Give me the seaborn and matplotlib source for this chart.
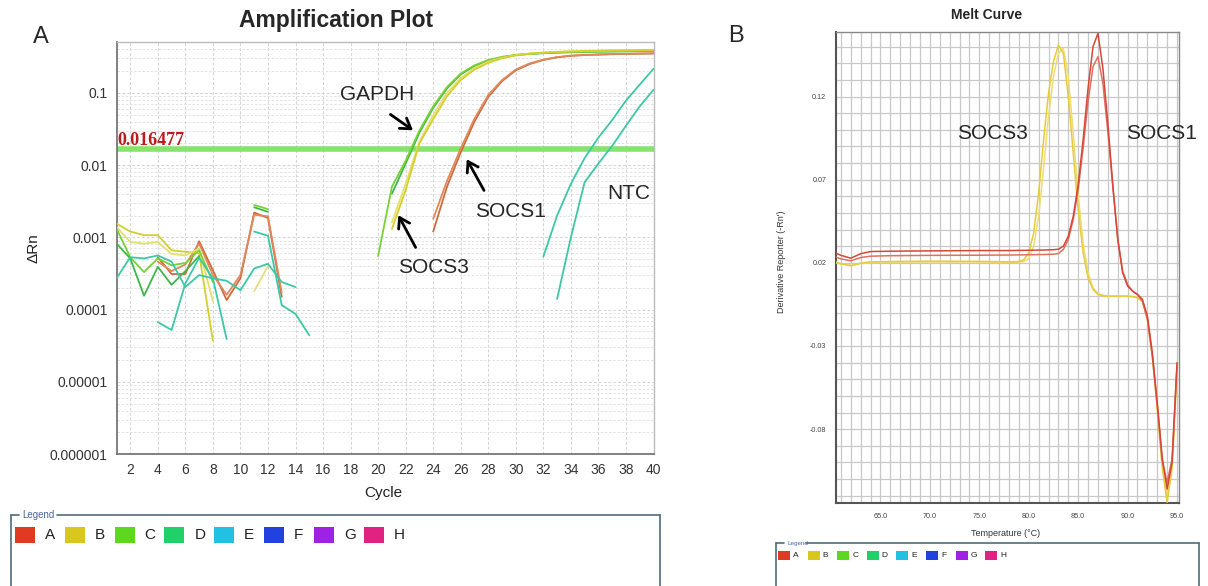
import numpy as np
import pandas as pd
import matplotlib
matplotlib.use("Agg")
import matplotlib.pyplot as plt
import seaborn as sns
from matplotlib.lines import Line2D
from matplotlib.patches import Rectangle
from matplotlib.ticker import LogLocator, NullFormatter, MultipleLocator, FixedLocator, FixedFormatter

sns.set_style("white")
plt.rcParams['font.family'] = ['Liberation Sans', 'DejaVu Sans']

# ---------------- Panel A data: amplification plot (ΔRn per cycle) ----------------
threshold = 0.016477
a_xticks = list(range(2, 41, 2))
a_yticks = [1e-6, 1e-5, 1e-4, 1e-3, 1e-2, 1e-1]
a_yticklabels = ["0.000001", "0.00001", "0.0001", "0.001", "0.01", "0.1"]

# background noise segments (early cycles)
nA1_cyc = list(range(4, 14))
nA1 = [5.3e-4, 3.1e-4, 3.1e-4, 8.8e-4, 3.5e-4, 1.35e-4, 2.7e-4, 2.2e-3, 1.85e-3, 1.5e-4]
nA2_cyc = list(range(4, 14))
nA2 = [4.6e-4, 3.4e-4, 4.2e-4, 8.2e-4, 3.0e-4, 1.6e-4, 3.0e-4, 2.05e-3, 1.95e-3, 1.7e-4]
nB1_cyc = list(range(1, 9))
nB1 = [1.55e-3, 1.2e-3, 1.07e-3, 1.07e-3, 6.6e-4, 6.3e-4, 6.0e-4, 3.7e-5]
nB2_cyc = list(range(1, 9))
nB2 = [1.39e-3, 8.6e-4, 8.2e-4, 8.6e-4, 5.9e-4, 5.6e-4, 7.0e-4, 1.3e-4]
nB3_cyc = [11, 12]
nB3 = [1.8e-4, 4.0e-4]
nC1_cyc = list(range(1, 9))
nC1 = [1.32e-3, 5.3e-4, 3.3e-4, 5.1e-4, 4.1e-4, 4.4e-4, 6.6e-4, 2.4e-4]
nC1b_cyc = [11, 12]
nC1b = [2.8e-3, 2.45e-3]
nC2_cyc = list(range(1, 8))
nC2 = [8.2e-4, 5.1e-4, 1.55e-4, 3.9e-4, 2.2e-4, 3.4e-4, 5.5e-4]
nC2b_cyc = [11, 12]
nC2b = [2.6e-3, 2.25e-3]
nE1_cyc = list(range(1, 15))
nE1 = [2.7e-4, 5.3e-4, 5.1e-4, 5.6e-4, 4.6e-4, 2.05e-4, 3.0e-4, 2.7e-4, 2.5e-4, 1.85e-4,
       3.7e-4, 4.3e-4, 2.4e-4, 2.05e-4]
nE2_cyc = list(range(4, 10))
nE2 = [6.7e-5, 5.2e-5, 2.3e-4, 5.2e-4, 2.7e-4, 3.9e-5]
nE3_cyc = list(range(11, 16))
nE3 = [1.2e-3, 1.05e-3, 1.15e-4, 8.7e-5, 4.4e-5]

# amplification curves
gapdh1_cyc = list(range(20, 41))
gapdh1 = [5.5e-4, 5.0e-3, 1.15e-2, 3.0e-2, 6.5e-2, 0.12, 0.185, 0.24, 0.285, 0.315, 0.335,
          0.348, 0.356, 0.362, 0.366, 0.37, 0.373, 0.375, 0.377, 0.379, 0.38]
gapdh2_cyc = list(range(21, 41))
gapdh2 = [4.0e-3, 1.05e-2, 2.8e-2, 6.2e-2, 0.115, 0.18, 0.235, 0.28, 0.31, 0.332, 0.345,
          0.353, 0.36, 0.364, 0.368, 0.371, 0.373, 0.375, 0.377, 0.378]
socs3_1_cyc = list(range(21, 41))
socs3_1 = [1.3e-3, 4.5e-3, 2.0e-2, 4.3e-2, 9.0e-2, 0.15, 0.21, 0.26, 0.3, 0.33, 0.348,
           0.36, 0.368, 0.374, 0.378, 0.382, 0.385, 0.388, 0.39, 0.392]
socs3_2_cyc = list(range(21, 41))
socs3_2 = [1.6e-3, 5.5e-3, 2.1e-2, 4.9e-2, 0.1, 0.16, 0.22, 0.27, 0.305, 0.333, 0.35,
           0.362, 0.37, 0.376, 0.38, 0.384, 0.387, 0.389, 0.391, 0.393]
socs1_1_cyc = list(range(24, 41))
socs1_1 = [1.2e-3, 5.0e-3, 1.5e-2, 4.0e-2, 8.8e-2, 0.145, 0.205, 0.25, 0.285, 0.31,
           0.325, 0.333, 0.338, 0.342, 0.345, 0.348, 0.35]
socs1_2_cyc = list(range(24, 41))
socs1_2 = [1.8e-3, 6.0e-3, 1.7e-2, 4.4e-2, 9.3e-2, 0.15, 0.21, 0.255, 0.288, 0.312,
           0.327, 0.335, 0.34, 0.344, 0.347, 0.35, 0.352]
ntc1_cyc = list(range(32, 41))
ntc1 = [5.4e-4, 2.0e-3, 5.5e-3, 1.25e-2, 2.4e-2, 4.2e-2, 7.8e-2, 0.13, 0.215]
ntc2_cyc = list(range(33, 41))
ntc2 = [1.4e-4, 1.0e-3, 5.8e-3, 1.05e-2, 1.85e-2, 3.5e-2, 6.5e-2, 0.11]

# ---------------- Panel B data: melt curve ----------------
temps = [60.5, 61.0, 62.0, 63.0, 64.0, 66.0, 70.0, 75.0, 78.0,
         79.0, 79.5, 80.0, 80.5, 81.0, 81.5, 82.0, 82.5, 83.0, 83.5, 84.0, 84.5,
         85.0, 85.5, 86.0, 86.5, 87.0, 87.5, 88.0, 88.5, 89.0, 89.5, 90.0, 90.5,
         91.0, 91.5, 92.0, 92.5, 93.0, 93.5, 94.0, 94.5, 95.0]
melt_A1 = [0.0258, 0.0245, 0.0228, 0.0255, 0.0268, 0.0270, 0.0272, 0.0274, 0.0274,
           0.0275, 0.0275, 0.0276, 0.0276, 0.0277, 0.0277, 0.0278, 0.0279, 0.0282, 0.030, 0.036, 0.048,
           0.067, 0.094, 0.125, 0.150, 0.158, 0.137, 0.104, 0.067, 0.034, 0.014, 0.006, 0.003,
           0.001, -0.002, -0.012, -0.034, -0.064, -0.097, -0.116, -0.100, -0.040]
melt_A2 = [0.0234, 0.0224, 0.0212, 0.0232, 0.0240, 0.0243, 0.0245, 0.0246, 0.0247,
           0.0248, 0.0248, 0.0249, 0.0249, 0.0250, 0.0250, 0.0251, 0.0252, 0.0256, 0.028, 0.034, 0.046,
           0.064, 0.089, 0.117, 0.138, 0.144, 0.128, 0.099, 0.066, 0.035, 0.015, 0.007, 0.003,
           0.001, -0.003, -0.014, -0.036, -0.066, -0.099, -0.112, -0.098, -0.042]
melt_B1 = [0.0205, 0.0195, 0.0182, 0.0198, 0.0206, 0.0208, 0.0210, 0.0209, 0.0206,
           0.0208, 0.0218, 0.026, 0.038, 0.062, 0.094, 0.122, 0.141, 0.151, 0.146, 0.120, 0.086,
           0.052, 0.026, 0.011, 0.004, 0.001, 0.0003, 0.0, 0.0, 0.0, 0.0, 0.0, -0.0003,
           -0.001, -0.003, -0.014, -0.036, -0.068, -0.103, -0.124, -0.104, -0.044]
melt_B2 = [0.0200, 0.0192, 0.0186, 0.0196, 0.0202, 0.0204, 0.0205, 0.0205, 0.0203,
           0.0204, 0.0208, 0.0225, 0.030, 0.048, 0.077, 0.108, 0.132, 0.146, 0.149, 0.132, 0.098,
           0.061, 0.032, 0.014, 0.005, 0.0015, 0.0005, 0.0, 0.0, 0.0, 0.0, 0.0, -0.0003,
           -0.001, -0.003, -0.013, -0.035, -0.066, -0.100, -0.120, -0.102, -0.043]
b_xticks = [65.0, 70.0, 75.0, 80.0, 85.0, 90.0, 95.0]
b_yticks = [-0.08, -0.03, 0.02, 0.07, 0.12]

legend_wells = ["A", "B", "C", "D", "E", "F", "G", "H"]
legend_colors = ["#e03a22", "#d8c81e", "#5cd820", "#22d06a", "#22c0e2", "#2242e0", "#a020e4", "#e02282"]

# ---------------- colours ----------------
cA1, cA2 = "#cf6a3c", "#e0885a"
cB1, cB2 = "#d4cf2c", "#e4e070"
cC1, cC2 = "#76d236", "#3cb84a"
cE = "#3cc8a6"

W, H = 1208, 586
def fx(px):
    return px / W
def fy(py):
    return 1 - py / H

fig = plt.figure(figsize=(W / 100, H / 100), dpi=100)
axA = fig.add_axes([fx(116.5), fy(454), (653.5 - 116.5) / W, (454 - 41.7) / H])
axB = fig.add_axes([fx(836), fy(503.3), (1179 - 836) / W, (503.3 - 31.7) / H])

# ---------------- Panel A ----------------
segments = [
    ("nA1", nA1_cyc, nA1, cA1), ("nA2", nA2_cyc, nA2, cA2),
    ("nB1", nB1_cyc, nB1, cB1), ("nB2", nB2_cyc, nB2, cB2), ("nB3", nB3_cyc, nB3, cB2),
    ("nC1", nC1_cyc, nC1, cC1), ("nC1b", nC1b_cyc, nC1b, cC1),
    ("nC2", nC2_cyc, nC2, cC2), ("nC2b", nC2b_cyc, nC2b, cC2),
    ("nE1", nE1_cyc, nE1, cE), ("nE2", nE2_cyc, nE2, cE), ("nE3", nE3_cyc, nE3, cE),
    ("ntc1", ntc1_cyc, ntc1, cE), ("ntc2", ntc2_cyc, ntc2, cE),
    ("socs1_1", socs1_1_cyc, socs1_1, cA1), ("socs1_2", socs1_2_cyc, socs1_2, cA2),
    ("gapdh2", gapdh2_cyc, gapdh2, cC2), ("gapdh1", gapdh1_cyc, gapdh1, cC1),
    ("socs3_2", socs3_2_cyc, socs3_2, cB2), ("socs3_1", socs3_1_cyc, socs3_1, cB1),
]
amp_df = pd.concat([pd.DataFrame({"cycle": c, "dRn": v, "seg": n}) for n, c, v, _ in segments],
                   ignore_index=True)
amp_pal = {n: col for n, _, _, col in segments}

axA.axhline(threshold, color="#84e46c", lw=4, zorder=1.5)
sns.lineplot(data=amp_df, x="cycle", y="dRn", hue="seg", palette=amp_pal, estimator=None,
             sort=False, legend=False, lw=1.3, ax=axA, zorder=3)
axA.set_yscale("log")
axA.set_xlim(1, 40)
axA.set_ylim(1e-6, 0.51)
axA.xaxis.set_major_locator(FixedLocator(a_xticks))
axA.xaxis.set_major_formatter(FixedFormatter([str(t) for t in a_xticks]))
axA.yaxis.set_major_locator(FixedLocator(a_yticks))
axA.yaxis.set_major_formatter(FixedFormatter(a_yticklabels))
axA.yaxis.set_minor_locator(LogLocator(base=10, subs=range(2, 10)))
axA.yaxis.set_minor_formatter(NullFormatter())
axA.grid(which="major", color="#d4d4d4", ls=(0, (3, 2)), lw=0.7)
axA.grid(which="minor", axis="y", color="#dedede", ls=(0, (3, 2)), lw=0.6)
axA.set_axisbelow(True)
axA.tick_params(which="major", length=3, labelsize=10, labelcolor="#333333", color="#777777")
axA.tick_params(which="minor", length=0)
axA.set_xlabel("")
axA.set_ylabel("")
for s in ["left", "bottom"]:
    axA.spines[s].set_color("#777777")
    axA.spines[s].set_linewidth(1.3)
for s in ["top", "right"]:
    axA.spines[s].set_color("#bbbbbb")
    axA.spines[s].set_linewidth(1.0)

axA.text(1.05, threshold, "0.016477", family=["Liberation Serif", "DejaVu Serif"], weight="bold",
         color="#b81c1c", fontsize=13, va="bottom", ha="left", zorder=4)

arrow_kw = dict(arrowstyle="->,head_length=0.7,head_width=0.45", lw=2, color="black")
axA.text(19.9, 0.094, "GAPDH", fontsize=15, ha="center", va="center")
axA.annotate("", xy=(22.7, 0.0288), xytext=(20.73, 0.0528), arrowprops=arrow_kw)
axA.text(24.0, 3.77e-4, "SOCS3", fontsize=15, ha="center", va="center")
axA.annotate("", xy=(21.37, 2.18e-3), xytext=(22.82, 6.7e-4), arrowprops=arrow_kw)
axA.text(29.6, 2.25e-3, "SOCS1", fontsize=15, ha="center", va="center")
axA.annotate("", xy=(26.34, 0.013), xytext=(27.79, 4.12e-3), arrowprops=arrow_kw)
axA.text(38.2, 4.1e-3, "NTC", fontsize=15, ha="center", va="center")

fig.text(fx(336), fy(20), "Amplification Plot", fontsize=16.5, weight="bold", ha="center", va="center")
fig.text(fx(383), fy(493), "Cycle", fontsize=11, ha="center", va="center", color="#222222")
fig.text(fx(34), fy(248), "ΔRn", fontsize=11, rotation=90, ha="center", va="center", color="#222222")
fig.text(fx(41), fy(37), "A", fontsize=17, ha="center", va="center")
fig.text(fx(736), fy(36), "B", fontsize=17, ha="center", va="center")

# ---------------- Panel B ----------------
melt_df = pd.DataFrame({"T": temps, "A1": melt_A1, "A2": melt_A2, "B1": melt_B1, "B2": melt_B2})
melt_long = melt_df.melt(id_vars="T", var_name="well", value_name="deriv")
melt_pal = {"A1": "#d6473a", "A2": "#e0705f", "B1": "#e6cc3a", "B2": "#efdc72"}
sns.lineplot(data=melt_long, x="T", y="deriv", hue="well", palette=melt_pal, estimator=None,
             hue_order=["B2", "B1", "A2", "A1"], legend=False, lw=1.1, ax=axB, zorder=3)
axB.set_xlim(60.5, 95.2)
axB.set_ylim(-0.1246, 0.159)
axB.xaxis.set_major_locator(FixedLocator(b_xticks))
axB.xaxis.set_major_formatter(FixedFormatter([f"{t:.1f}" for t in b_xticks]))
axB.xaxis.set_minor_locator(MultipleLocator(1))
axB.yaxis.set_major_locator(FixedLocator(b_yticks))
axB.yaxis.set_major_formatter(FixedFormatter([f"{t:.2f}" for t in b_yticks]))
axB.yaxis.set_minor_locator(MultipleLocator(0.01))
axB.grid(which="both", color="#c8c8c8", lw=0.9, ls="-")
axB.set_axisbelow(True)
axB.tick_params(which="major", length=5, labelsize=5.2, labelcolor="#444444", color="#888888", pad=2)
axB.tick_params(which="minor", length=3, color="#aaaaaa")
axB.set_xlabel("")
axB.set_ylabel("")
for s in ["left", "bottom"]:
    axB.spines[s].set_color("#555555")
    axB.spines[s].set_linewidth(1.5)
for s in ["top", "right"]:
    axB.spines[s].set_color("#888888")
    axB.spines[s].set_linewidth(1.0)

axB.text(76.3, 0.098, "SOCS3", fontsize=15, ha="center", va="center")
axB.text(93.4, 0.098, "SOCS1", fontsize=15, ha="center", va="center")

fig.text(fx(987), fy(15), "Melt Curve", fontsize=10, weight="bold", ha="center", va="center")
fig.text(fx(1006), fy(533), "Temperature (°C)", fontsize=6.5, ha="center", va="center", color="#333333")
fig.text(fx(782), fy(262), "Derivative Reporter (-Rn')", fontsize=6.5, rotation=90,
         ha="center", va="center", color="#333333")

# ---------------- legend boxes (instrument style) ----------------
def legend_box(x0, x1, ytop, label_end, title_size, sq_x0, sq_dx, sq_w, sq_h, sq_y, lab_off, lab_size):
    edge = "#4f6b7c"
    for xs, ys in [([x0, x0], [ytop, H + 5]), ([x1, x1], [ytop, H + 5]),
                   ([x0, x0 + 8], [ytop, ytop]), ([label_end, x1], [ytop, ytop])]:
        fig.add_artist(Line2D([fx(v) for v in xs], [fy(v) for v in ys], color=edge, lw=1.2))
    fig.text(fx(x0 + 11), fy(ytop), "Legend", fontsize=title_size, color="#4a64a0",
             ha="left", va="center")
    for i, (w, c) in enumerate(zip(legend_wells, legend_colors)):
        xs = sq_x0 + i * sq_dx
        fig.add_artist(Rectangle((fx(xs), fy(sq_y + sq_h)), sq_w / W, sq_h / H,
                                 facecolor=c, edgecolor="none"))
        fig.text(fx(xs + lab_off), fy(sq_y + sq_h / 2), w, fontsize=lab_size, color="#222222",
                 ha="left", va="center")

legend_box(11, 660, 515, 57, 7, 15, 49.8, 20, 16, 527, 30, 11)
legend_box(776, 1199, 543, 806, 4.5, 778, 29.6, 12, 9, 551, 15, 6)

fig.savefig("out.png", dpi=100)
